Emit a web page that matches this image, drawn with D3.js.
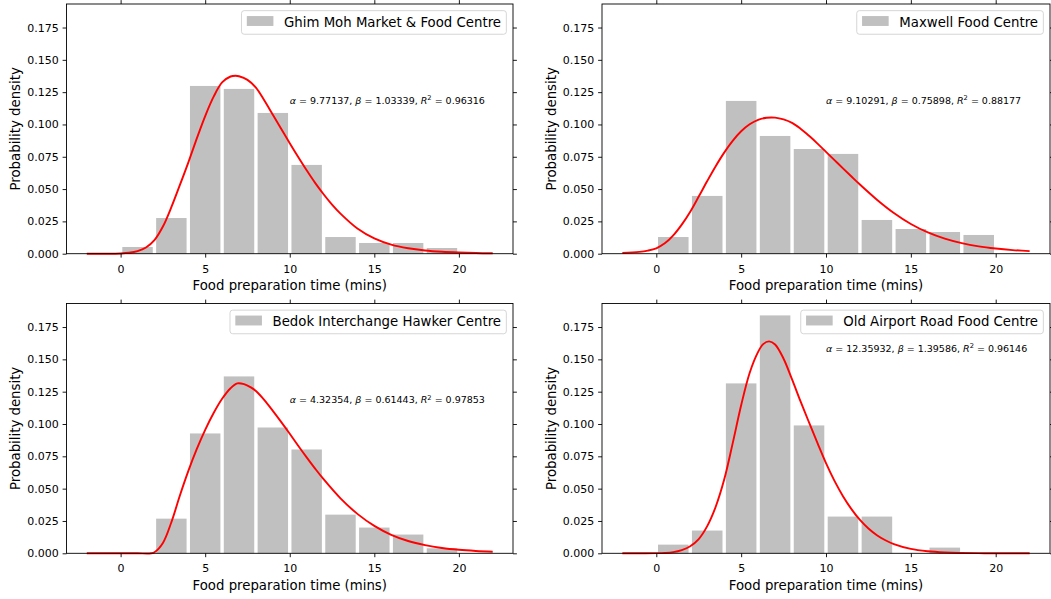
<!DOCTYPE html>
<html>
<head>
<meta charset="utf-8">
<script src="https://cdn.jsdelivr.net/npm/d3@7"></script>
<style>
  body { margin: 0; background: #fff; }
  svg { display: block; font-family: "DejaVu Sans", sans-serif; }
</style>
</head>
<body>
<svg id="chart" width="1051" height="599"></svg>
<script>
// histogram bins (mins) and densities
const binEdges = [0, 2, 4, 6, 8, 10, 12, 14, 16, 18, 20];

const centreNames = [
  'Ghim Moh Market & Food Centre',
  'Maxwell Food Centre',
  'Bedok Interchange Hawker Centre',
  'Old Airport Road Food Centre'
];

const ghimMohHist   = [0.0052, 0.0276, 0.1298, 0.1275, 0.1089, 0.0687, 0.0129, 0.0083, 0.0083, 0.0044];
const maxwellHist   = [0.0129, 0.0447, 0.1182, 0.0911, 0.0810, 0.0772, 0.0261, 0.0191, 0.0168, 0.0145];
const bedokHist     = [0, 0.0268, 0.0927, 0.1368, 0.0973, 0.0803, 0.0299, 0.0199, 0.0145, 0.0039];
const oldAirportHist = [0.0067, 0.0176, 0.1314, 0.1840, 0.0989, 0.0284, 0.0284, 0, 0.0044, 0];

// fitted curves as [x, density]
const ghimMohFit = [[-2,0],[-1,0],[0,0.0002],[0.5,0.0007],[1,0.002],[1.5,0.0048],[2,0.0105],[2.5,0.021],
  [3,0.036],[3.5,0.053],[4,0.0705],[4.5,0.089],[5,0.1065],[5.5,0.1215],[6,0.1325],[6.5,0.1371],[6.8,0.1377],
  [7,0.1373],[7.5,0.1345],[8,0.1285],[8.5,0.1185],[9,0.1075],[9.5,0.0965],[10,0.0855],[10.5,0.0748],
  [11,0.0645],[11.5,0.0548],[12,0.046],[12.5,0.038],[13,0.031],[14,0.0195],[15,0.0118],[16,0.007],
  [17,0.0042],[18,0.0025],[19,0.0015],[20,0.0009],[21,0.0005],[22,0.0003]];
const maxwellFit = [[-2,0.0006],[-1,0.0014],[-0.5,0.0024],[0,0.0042],[0.5,0.008],[1,0.0142],[1.5,0.0225],
  [2,0.0325],[2.5,0.0442],[3,0.0562],[3.5,0.0677],[4,0.0782],[4.5,0.0873],[5,0.0947],[5.5,0.1001],
  [6,0.1036],[6.5,0.1052],[7,0.1053],[7.5,0.1039],[8,0.1012],[8.5,0.0967],[9,0.0912],[9.5,0.0852],
  [10,0.0788],[10.5,0.0724],[11,0.066],[11.5,0.0597],[12,0.0535],[13,0.0418],[14,0.0315],[15,0.023],
  [16,0.0165],[17,0.0117],[18,0.0082],[19,0.0057],[20,0.004],[21,0.0028],[22,0.002]];
const bedokFit = [[-2,0],[0,0],[1,0],[1.8,0],[2,0.0008],[2.5,0.008],[3,0.024],[3.5,0.0445],[4,0.0635],
  [4.5,0.0805],[5,0.0955],[5.5,0.1085],[6,0.1195],[6.5,0.1277],[6.9,0.1314],[7.3,0.1308],[7.7,0.1283],
  [8,0.1255],[8.5,0.1185],[9,0.1102],[9.5,0.1015],[10,0.0925],[10.5,0.0832],[11,0.0742],[11.5,0.0655],
  [12,0.0573],[13,0.0425],[14,0.0305],[15,0.0212],[16,0.0143],[17,0.0095],[18,0.0063],[19,0.0041],
  [20,0.0027],[21,0.0018],[22,0.0012]];
const oldAirportFit = [[-2,0],[-1,0],[0,0.0001],[0.5,0.0003],[1,0.0009],[1.5,0.0025],[2,0.0055],[2.5,0.011],
  [3,0.021],[3.5,0.036],[4,0.057],[4.5,0.085],[5,0.1145],[5.5,0.1395],[6,0.1558],[6.3,0.1618],[6.65,0.1639],
  [7,0.1615],[7.5,0.1505],[8,0.1345],[8.5,0.1175],[9,0.1012],[9.5,0.0852],[10,0.0697],[10.5,0.056],
  [11,0.0442],[11.5,0.0342],[12,0.0258],[12.5,0.0192],[13,0.014],[13.5,0.0101],[14,0.0071],[15,0.0034],
  [16,0.0016],[17,0.0007],[18,0.0003],[19,0.0001],[20,0],[22,0]];

const fitAlpha = ['9.77137', '9.10291', '4.32354', '12.35932'];
const fitBeta  = ['1.03339', '0.75898', '0.61443', '1.39586'];
const fitR2    = ['0.96316', '0.88177', '0.97853', '0.96146'];
const noteX = [10, 10, 10, 10];
const noteY = [0.116, 0.116, 0.116, 0.156];

const xTicks = [0, 5, 10, 15, 20];
const yTicks = [0, 0.025, 0.05, 0.075, 0.1, 0.125, 0.15, 0.175];

const hists = [ghimMohHist, maxwellHist, bedokHist, oldAirportHist];
const fits = [ghimMohFit, maxwellFit, bedokFit, oldAirportFit];

// layout of the 2x2 grid (pixels)
const cols = [{ left: 66.5, right: 513 }, { left: 602, right: 1050 }];
const rows = [{ top: 4, bottom: 253.7 }, { top: 303.5, bottom: 553.3 }];

const BAR = '#c0c0c0';
const LINE = '#ff0000';
const rwidth = 0.9;

const svg = d3.select('#chart');

// shared y range, matplotlib style (sticky 0, 5% top margin)
const yMax = d3.max(hists, h => d3.max(h)) * 1.05;

function drawPanel(i) {
  const col = cols[i % 2], row = rows[Math.floor(i / 2)];
  const { left, right } = col, { top, bottom } = row;

  const x = d3.scaleLinear().domain([-3.2, 23.2]).range([left, right]);
  const y = d3.scaleLinear().domain([0, yMax]).range([bottom, top]);

  const g = svg.append('g');

  // bars
  const bins = hists[i].map((v, k) => ({ x0: binEdges[k], x1: binEdges[k + 1], v }));
  const inset = (1 - rwidth) * (binEdges[1] - binEdges[0]) / 2;
  g.append('g').selectAll('rect')
    .data(bins.filter(d => d.v > 0))
    .join('rect')
    .attr('x', d => x(d.x0 + inset))
    .attr('y', d => y(d.v))
    .attr('width', d => x(d.x1 - inset) - x(d.x0 + inset))
    .attr('height', d => y(0) - y(d.v))
    .attr('fill', BAR);

  // fitted pdf
  const line = d3.line()
    .x(d => x(d[0]))
    .y(d => y(d[1]))
    .curve(d3.curveCatmullRom.alpha(0.5));
  g.append('path')
    .datum(fits[i])
    .attr('d', line)
    .attr('fill', 'none')
    .attr('stroke', LINE)
    .attr('stroke-width', 1.9)
    .attr('stroke-linejoin', 'round');

  // annotation with fit params
  const note = g.append('text')
    .attr('x', x(noteX[i]))
    .attr('y', y(noteY[i]))
    .attr('font-size', 9.5)
    .attr('fill', '#000');
  note.append('tspan').attr('font-style', 'italic').text('α');
  note.append('tspan').text(' = ' + fitAlpha[i] + ', ');
  note.append('tspan').attr('font-style', 'italic').text('β');
  note.append('tspan').text(' = ' + fitBeta[i] + ', ');
  note.append('tspan').attr('font-style', 'italic').text('R');
  note.append('tspan').attr('font-size', 6.7).attr('dy', -3.8).text('2');
  note.append('tspan').attr('dy', 3.8).text(' = ' + fitR2[i]);

  // axes, ticks on every side pointing out
  const tickStyle = sel => {
    sel.select('.domain').remove();
    sel.selectAll('.tick line').attr('stroke', '#000').attr('stroke-width', 0.9);
    sel.selectAll('.tick text').attr('fill', '#000');
    sel.attr('font-size', 11).attr('font-family', null);
  };

  g.append('g')
    .attr('transform', `translate(0,${bottom})`)
    .call(d3.axisBottom(x).tickValues(xTicks).tickSize(3.9).tickPadding(7.4).tickFormat(d3.format('d')))
    .call(tickStyle);
  g.append('g')
    .attr('transform', `translate(0,${top})`)
    .call(d3.axisTop(x).tickValues(xTicks).tickSize(3.9).tickFormat(''))
    .call(tickStyle);
  g.append('g')
    .attr('transform', `translate(${left},0)`)
    .call(d3.axisLeft(y).tickValues(yTicks).tickSize(3.9).tickPadding(3.9).tickFormat(d3.format('.3f')))
    .call(tickStyle);
  g.append('g')
    .attr('transform', `translate(${right},0)`)
    .call(d3.axisRight(y).tickValues(yTicks).tickSize(3.9).tickFormat(''))
    .call(tickStyle);

  // frame
  g.append('rect')
    .attr('x', left).attr('y', top)
    .attr('width', right - left).attr('height', bottom - top)
    .attr('fill', 'none')
    .attr('stroke', '#000')
    .attr('stroke-width', 0.9);

  // axis labels
  g.append('text')
    .attr('x', (left + right) / 2)
    .attr('y', bottom + 36.3)
    .attr('text-anchor', 'middle')
    .attr('font-size', 13.3)
    .text('Food preparation time (mins)');
  g.append('text')
    .attr('transform', `translate(${left - 46.4},${(top + bottom) / 2}) rotate(-90)`)
    .attr('text-anchor', 'middle')
    .attr('font-size', 13.3)
    .text('Probability density');

  // legend
  const fs = 13.3, bp = 0.4 * fs, hl = 2.0 * fs, hp = 0.8 * fs;
  const lg = g.append('g');
  const lt = lg.append('text')
    .attr('font-size', fs)
    .text(centreNames[i]);
  const tw = lt.node().getComputedTextLength();
  const lw = bp + hl + hp + tw + bp, lh = 23.6;
  const lx = right - 0.5 * fs - lw, ly = top + 0.5 * fs;
  lt.attr('x', lx + bp + hl + hp).attr('y', ly + 16.2);
  lg.insert('rect', 'text')
    .attr('x', lx).attr('y', ly)
    .attr('width', lw).attr('height', lh)
    .attr('rx', 2.7)
    .attr('fill', '#fff').attr('fill-opacity', 0.8)
    .attr('stroke', '#cccccc').attr('stroke-opacity', 0.8)
    .attr('stroke-width', 1);
  lg.insert('rect', 'text')
    .attr('x', lx + bp).attr('y', ly + 5.4)
    .attr('width', hl).attr('height', 0.7 * fs + 0.6)
    .attr('fill', BAR);
}

[0, 1, 2, 3].forEach(drawPanel);
</script>
</body>
</html>
